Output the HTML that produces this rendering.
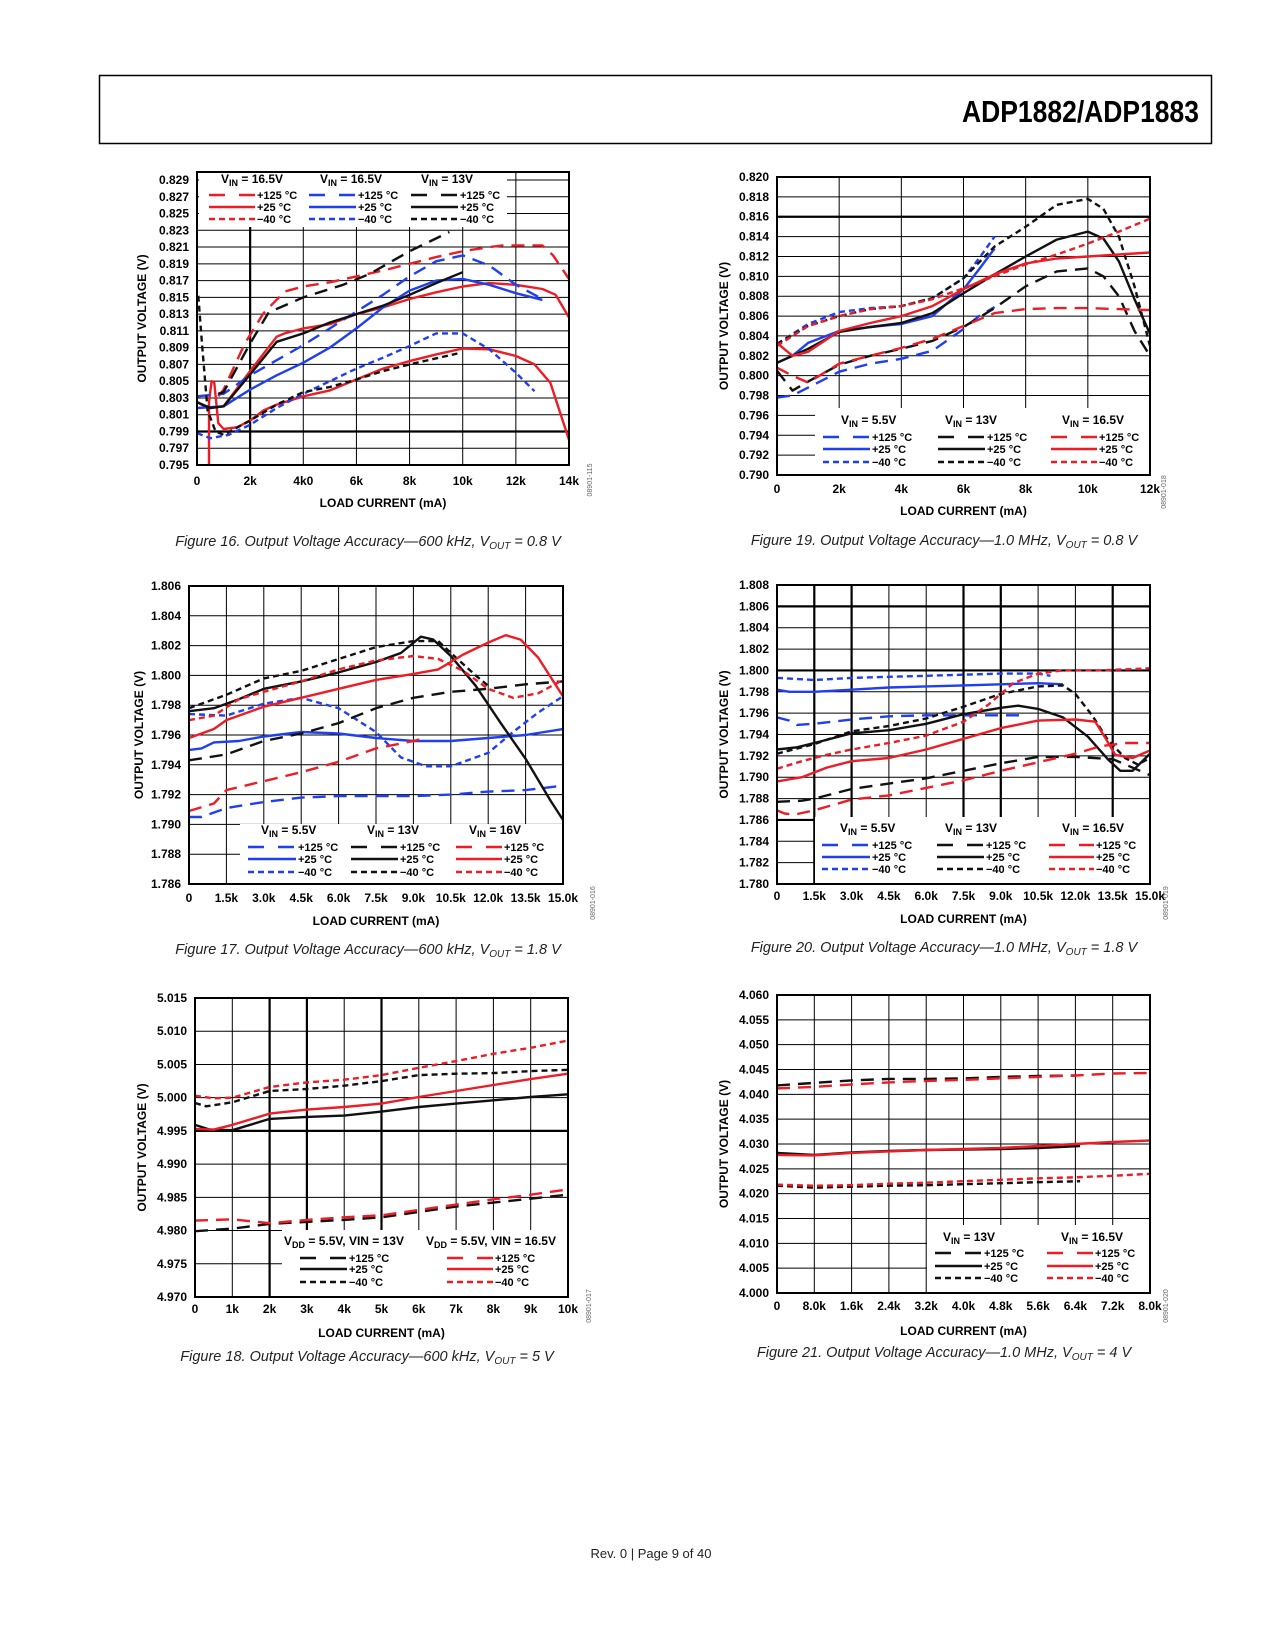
<!DOCTYPE html>
<html><head><meta charset="utf-8">
<style>
html,body{margin:0;padding:0;background:#fff;}
svg{display:block;}
text{font-family:"Liberation Sans",sans-serif;}
.tk{font-size:12px;font-weight:bold;fill:#000;}
.ax{font-size:12px;font-weight:bold;fill:#000;}
.cap{font-size:14.5px;font-style:italic;fill:#222;}
.lg{font-size:11px;font-weight:bold;fill:#000;}
.lh{font-size:12px;font-weight:bold;fill:#000;}
.id{font-size:7px;fill:#666;}
</style></head>
<body>
<svg id="page" width="1275" height="1650" viewBox="0 0 1275 1650" xmlns="http://www.w3.org/2000/svg">
<rect x="99.5" y="75.5" width="1112" height="68" fill="none" stroke="#000" stroke-width="1.5"/>
<text x="1199" y="122" font-size="31" font-weight="bold" text-anchor="end" textLength="237" lengthAdjust="spacingAndGlyphs">ADP1882/ADP1883</text>
<text x="651" y="1558" font-size="13" text-anchor="middle" fill="#222">Rev. 0 | Page 9 of 40</text>
<g id="charts"></g>
</svg>
<script>
// ---------- DATA ----------
// Figure 16 (x in k mA, y in V)
const f16Ticks = ["0","2k","4k0","6k","8k","10k","12k","14k"];
const f16YTicks = ["0.795","0.797","0.799","0.801","0.803","0.805","0.807","0.809","0.811","0.813","0.815","0.817","0.819","0.821","0.823","0.825","0.827","0.829"];
const f16_red125 = [[0.8,0.8032],[1,0.8040],[1.8,0.8095],[2.5,0.8131],[3.3,0.8157],[4,0.8163],[5,0.8168],[6,0.8175],[7,0.8182],[8,0.8190],[9,0.8198],[10,0.8205],[11,0.8210],[11.5,0.8212],[13,0.8212],[13.4,0.8200],[14,0.8172]];
const f16_red25 = [[0,0.8025],[0.4,0.8018],[1,0.8020],[2,0.8062],[3,0.8103],[3.3,0.8107],[4,0.8113],[5,0.8118],[6,0.8130],[7,0.8138],[8,0.8148],[9,0.8156],[10,0.8163],[11,0.8167],[12,0.8165],[13,0.8160],[13.5,0.8153],[14,0.8126]];
const f16_red40 = [[0.45,0.7950],[0.45,0.8025],[0.55,0.8050],[0.65,0.8048],[0.8,0.8000],[1,0.7993],[1.5,0.7995],[2,0.8003],[2.5,0.8015],[3,0.8022],[4,0.8032],[5,0.8039],[6,0.8052],[7,0.8065],[8,0.8074],[9,0.8082],[10,0.8089],[11,0.8088],[12,0.8080],[12.7,0.8070],[13.3,0.8048],[14,0.7980]];
const f16_blue125 = [[0,0.8032],[1,0.8035],[2,0.8057],[3,0.8075],[4,0.8093],[5,0.8113],[6,0.8133],[7,0.8153],[8,0.8175],[9,0.8193],[10,0.8200],[11,0.8188],[12,0.8165],[13,0.8148]];
const f16_blue25 = [[0,0.8018],[1,0.8020],[2,0.8040],[3,0.8057],[4,0.8072],[5,0.8090],[6,0.8113],[7,0.8138],[8,0.8158],[9,0.8170],[10,0.8172],[11,0.8165],[12,0.8155],[13,0.8147]];
const f16_blue40 = [[0,0.7988],[0.5,0.7982],[1.2,0.7986],[2,0.7998],[3,0.8018],[4,0.8035],[5,0.8050],[6,0.8065],[7,0.8078],[8,0.8092],[9,0.8107],[10,0.8107],[11,0.8088],[12,0.8060],[12.7,0.8038]];
const f16_black125 = [[0.8,0.8035],[1,0.8037],[2,0.8095],[2.7,0.8132],[4,0.8150],[5.5,0.8165],[6.5,0.8178],[8,0.8205],[9.5,0.8228]];
const f16_black25 = [[0,0.8025],[0.5,0.8018],[1,0.8020],[2,0.8058],[3,0.8097],[4,0.8107],[5,0.8120],[6,0.8130],[7,0.8140],[8,0.8153],[9,0.8167],[10,0.8180]];
const f16_black40 = [[0.05,0.8152],[0.2,0.8090],[0.4,0.8015],[0.7,0.7990],[1,0.7986],[2,0.8003],[3,0.8022],[4,0.8037],[5,0.8043],[6,0.8052],[7,0.8062],[8,0.8070],[9.8,0.8083]];

// Figure 19
const f19Ticks = ["0","2k","4k","6k","8k","10k","12k"];
const f19YTicks = ["0.790","0.792","0.794","0.796","0.798","0.800","0.802","0.804","0.806","0.808","0.810","0.812","0.814","0.816","0.818","0.820"];
const f19_blue125 = [[0,0.7978],[0.5,0.7980],[1,0.7988],[2,0.8004],[3,0.8012],[4,0.8017],[5,0.8025],[6,0.8047],[6.5,0.8060],[7,0.8069]];
const f19_blue25 = [[0,0.8013],[0.5,0.8020],[1,0.8033],[2,0.8045],[3,0.8049],[4,0.8052],[5,0.8060],[6,0.8087],[6.5,0.8107],[7,0.8128]];
const f19_blue40 = [[0,0.8032],[1,0.8052],[2,0.8064],[3,0.8068],[4,0.8070],[5,0.8078],[6,0.8098],[6.5,0.8118],[7,0.8140]];
const f19_black125 = [[0,0.8005],[0.5,0.7985],[1,0.7994],[2,0.8011],[3,0.8020],[4,0.8027],[5,0.8035],[6,0.8049],[7,0.8068],[8,0.8090],[9,0.8105],[10,0.8108],[10.5,0.8100],[11,0.8080],[11.5,0.8045],[12,0.8020]];
const f19_black25 = [[0,0.8013],[1,0.8027],[2,0.8044],[3,0.8049],[4,0.8053],[5,0.8063],[6,0.8083],[7,0.8102],[8,0.8120],[9,0.8137],[10,0.8145],[10.5,0.8138],[11,0.8115],[11.5,0.8077],[12,0.8042]];
const f19_black40 = [[0,0.8032],[1,0.8050],[2,0.8060],[3,0.8067],[4,0.8070],[5,0.8078],[6,0.8098],[7,0.8130],[8,0.8150],[9,0.8172],[10,0.8178],[10.5,0.8168],[11,0.8140],[11.5,0.8090],[12,0.8030]];
const f19_red125 = [[0,0.8008],[0.5,0.8000],[1,0.7993],[2,0.8012],[3,0.8020],[4,0.8028],[5,0.8037],[6,0.8050],[7,0.8063],[8,0.8067],[9,0.8068],[10,0.8068],[11,0.8067],[12,0.8066]];
const f19_red25 = [[0,0.8033],[0.5,0.8020],[1,0.8024],[2,0.8045],[3,0.8053],[4,0.8060],[5,0.8070],[6,0.8087],[7,0.8102],[8,0.8113],[9,0.8118],[10,0.8120],[11,0.8122],[12,0.8124]];
const f19_red40 = [[0,0.8030],[1,0.8050],[2,0.8060],[3,0.8067],[4,0.8070],[5,0.8077],[6,0.8088],[7,0.8100],[8,0.8112],[9,0.8122],[10,0.8133],[11,0.8145],[12,0.8158]];

// Figure 17
const f17Ticks = ["0","1.5k","3.0k","4.5k","6.0k","7.5k","9.0k","10.5k","12.0k","13.5k","15.0k"];
const f17YTicks = ["1.786","1.788","1.790","1.792","1.794","1.796","1.798","1.800","1.802","1.804","1.806"];
const f17_blue125 = [[0,1.7905],[0.5,1.7905],[1.5,1.7911],[3,1.7915],[4.5,1.7918],[6,1.7919],[7.5,1.7919],[9,1.7919],[10.5,1.7920],[12,1.7922],[13.5,1.7923],[15,1.7926]];
const f17_blue25 = [[0,1.7950],[0.5,1.7951],[1,1.7955],[2,1.7956],[3,1.7959],[4.5,1.7962],[6,1.7961],[7.5,1.7958],[9,1.7956],[10.5,1.7956],[12,1.7958],[13.5,1.7960],[15,1.7964]];
const f17_blue40 = [[0,1.7974],[1.5,1.7973],[3,1.7981],[4.5,1.7985],[6,1.7978],[7.5,1.7962],[8.5,1.7945],[9.5,1.7939],[10.5,1.7939],[12,1.7948],[13,1.7962],[14,1.7975],[15,1.7986]];
const f17_black125 = [[0,1.7943],[1.5,1.7947],[3,1.7956],[4.5,1.7961],[6,1.7968],[7.5,1.7978],[9,1.7985],[10.5,1.7989],[12,1.7991],[13.5,1.7994],[15,1.7996]];
const f17_black25 = [[0,1.7976],[1,1.7978],[2,1.7984],[3,1.7991],[4.5,1.7996],[6,1.8002],[7.5,1.8009],[8.5,1.8015],[9.3,1.8026],[9.8,1.8024],[10.5,1.8013],[11.5,1.7993],[12.5,1.7968],[13.5,1.7944],[14.5,1.7916],[15,1.7903]];
const f17_black40 = [[0,1.7978],[1.5,1.7987],[3,1.7998],[4.5,1.8003],[6,1.8011],[7.5,1.8019],[9,1.8023],[10,1.8023],[10.7,1.8012],[11.5,1.8000],[12,1.7993]];
const f17_red125 = [[0,1.7909],[1,1.7914],[1.5,1.7923],[3,1.7929],[4.5,1.7935],[6,1.7942],[7.5,1.7951],[9,1.7956],[9.5,1.7958]];
const f17_red25 = [[0,1.7958],[1,1.7964],[1.5,1.7970],[3,1.7979],[4.5,1.7985],[6,1.7991],[7.5,1.7997],[9,1.8001],[10,1.8004],[11,1.8014],[12,1.8022],[12.7,1.8027],[13.3,1.8024],[14,1.8012],[15,1.7986]];
const f17_red40 = [[0,1.7970],[1,1.7973],[2,1.7984],[3,1.7989],[4.5,1.7996],[6,1.8004],[7.5,1.8010],[9,1.8013],[10,1.8011],[11,1.8003],[12,1.7991],[13,1.7985],[14,1.7988],[15,1.7997]];

// Figure 20
const f20Ticks = ["0","1.5k","3.0k","4.5k","6.0k","7.5k","9.0k","10.5k","12.0k","13.5k","15.0k"];
const f20YTicks = ["1.780","1.782","1.784","1.786","1.788","1.790","1.792","1.794","1.796","1.798","1.800","1.802","1.804","1.806","1.808"];
const f20_blue125 = [[0,1.7956],[0.5,1.7953],[0.8,1.7949],[1.5,1.7950],[3,1.7954],[4.5,1.7957],[6,1.7958],[7.5,1.7958],[9,1.7958],[10,1.7958]];
const f20_blue25 = [[0,1.7982],[0.5,1.7980],[1.5,1.7980],[3,1.7982],[4.5,1.7984],[6,1.7985],[7.5,1.7986],[9,1.7987],[10.5,1.7988],[11.5,1.7987]];
const f20_blue40 = [[0,1.7993],[1.5,1.7991],[3,1.7993],[4.5,1.7994],[6,1.7995],[7.5,1.7996],[9,1.7997],[10.5,1.7997],[11,1.7995]];
const f20_black125 = [[0,1.7877],[1,1.7878],[1.5,1.7880],[3,1.7889],[4.5,1.7894],[6,1.7899],[7.5,1.7906],[9,1.7913],[10.5,1.7919],[12,1.7919],[13.5,1.7917],[15,1.7902]];
const f20_black25 = [[0,1.7926],[0.8,1.7928],[1.5,1.7932],[3,1.7941],[4.5,1.7944],[6,1.7950],[7.5,1.7959],[9,1.7965],[9.7,1.7967],[10.5,1.7964],[11.5,1.7956],[12.5,1.7938],[13.3,1.7917],[13.8,1.7906],[14.3,1.7906],[15,1.7922]];
const f20_black40 = [[0,1.7922],[1.5,1.7931],[3,1.7943],[4.5,1.7948],[6,1.7955],[7.5,1.7966],[9,1.7978],[10.5,1.7985],[11.5,1.7986],[12,1.7978],[12.7,1.7957],[13.3,1.7935],[14,1.7918],[14.5,1.7912],[15,1.7918]];
const f20_red125 = [[0,1.7869],[0.3,1.7866],[0.7,1.7865],[1.5,1.7869],[3,1.7879],[4.5,1.7883],[6,1.7890],[7.5,1.7897],[9,1.7906],[10.5,1.7914],[12,1.7922],[13,1.7929],[14,1.7932],[15,1.7932]];
const f20_red25 = [[0,1.7896],[1,1.7900],[2,1.7909],[3,1.7915],[4.5,1.7918],[6,1.7926],[7.5,1.7936],[9,1.7946],[10.5,1.7953],[12,1.7954],[12.8,1.7952],[13.2,1.7937],[13.6,1.7921],[14.3,1.7918],[15,1.7925]];
const f20_red40 = [[0,1.7908],[1,1.7915],[2,1.7921],[3,1.7926],[4.5,1.7932],[6,1.7939],[7.5,1.7952],[8.5,1.7968],[9.5,1.7988],[10.5,1.7997],[11.5,1.8000],[13,1.8000],[15,1.8002]];

// Figure 18
const f18Ticks = ["0","1k","2k","3k","4k","5k","6k","7k","8k","9k","10k"];
const f18YTicks = ["4.970","4.975","4.980","4.985","4.990","4.995","5.000","5.005","5.010","5.015"];
const f18_black125 = [[0,4.9799],[0.5,4.9801],[1,4.9803],[2,4.9810],[3,4.9813],[4,4.9816],[5,4.9820],[6,4.9828],[7,4.9836],[8,4.9842],[9,4.9848],[10,4.9854]];
const f18_black25 = [[0,4.9959],[0.4,4.9952],[1,4.9951],[2,4.9968],[3,4.9971],[4,4.9973],[5,4.9979],[6,4.9986],[7,4.9991],[8,4.9996],[9,5.0001],[10,5.0005]];
const f18_black40 = [[0,4.9992],[0.3,4.9987],[1,4.9993],[2,5.0010],[3,5.0013],[4,5.0018],[5,5.0025],[6,5.0034],[7,5.0036],[8,5.0037],[9,5.0040],[10,5.0042]];
const f18_red125 = [[0,4.9815],[1,4.9817],[2,4.9811],[3,4.9816],[4,4.9820],[5,4.9823],[6,4.9831],[7,4.9839],[8,4.9847],[9,4.9854],[10,4.9862]];
const f18_red25 = [[0,4.9953],[0.5,4.9952],[1,4.9959],[2,4.9976],[3,4.9982],[4,4.9986],[5,4.9991],[6,5.0001],[7,5.0010],[8,5.0019],[9,5.0028],[10,5.0036]];
const f18_red40 = [[0,5.0003],[0.5,4.9999],[1,5.0000],[2,5.0016],[3,5.0023],[4,5.0027],[5,5.0034],[6,5.0045],[7,5.0055],[8,5.0066],[9,5.0075],[10,5.0086]];

// Figure 21
const f21Ticks = ["0","8.0k","1.6k","2.4k","3.2k","4.0k","4.8k","5.6k","6.4k","7.2k","8.0k"];
const f21YTicks = ["4.000","4.005","4.010","4.015","4.020","4.025","4.030","4.035","4.040","4.045","4.050","4.055","4.060"];
const f21_black125 = [[0,4.0418],[0.8,4.0423],[1.6,4.0428],[2.4,4.0431],[3.2,4.0431],[4,4.0432],[4.8,4.0435],[5.6,4.0437],[6.4,4.0438]];
const f21_black25 = [[0,4.0282],[0.8,4.0278],[1.6,4.0283],[2.4,4.0286],[3.2,4.0288],[4,4.0289],[4.8,4.0290],[5.6,4.0292],[6.5,4.0296]];
const f21_black40 = [[0,4.0216],[0.8,4.0212],[1.6,4.0214],[2.4,4.0216],[3.2,4.0217],[4,4.0219],[4.8,4.0221],[5.6,4.0223],[6.5,4.0225]];
const f21_red125 = [[0,4.0412],[0.8,4.0415],[1.6,4.0420],[2.4,4.0424],[3.2,4.0427],[4,4.0429],[4.8,4.0432],[5.6,4.0435],[6.4,4.0438],[7.2,4.0442],[8,4.0443]];
const f21_red25 = [[0,4.0278],[0.8,4.0277],[1.6,4.0282],[2.4,4.0285],[3.2,4.0288],[4,4.0290],[4.8,4.0292],[5.6,4.0296],[6.4,4.0300],[7.2,4.0304],[8,4.0307]];
const f21_red40 = [[0,4.0218],[0.8,4.0216],[1.6,4.0217],[2.4,4.0220],[3.2,4.0222],[4,4.0225],[4.8,4.0228],[5.6,4.0231],[6.4,4.0233],[7.2,4.0236],[8,4.0240]];

// ---------- RENDER ----------
const NS = "http://www.w3.org/2000/svg";
const root = document.getElementById("charts");
const RED = "#ee1c25", BLUE = "#1f3ff0", BLACK = "#111";
const DASH = {l:"13 8", s:"6 4", solid:null};
function mk(tag, attrs, parent){ const e=document.createElementNS(NS,tag); for(const k in attrs) e.setAttribute(k,attrs[k]); (parent||root).appendChild(e); return e; }

function chart(c){
  const g = mk("g",{});
  
  
  const nx = c.xTicks.length-1, ny = c.yTicks.length-1;
  const gt = c.gridTop!==undefined ? c.gridTop : c.T;
  const sx = v => c.L + (v - c.xmin)/(c.xmax - c.xmin)*(c.R - c.L);
  const sy = v => c.B - (v - c.ymin)/(c.ymax - c.ymin)*(c.B - gt);
  for(let i=1;i<nx;i++){ const x=c.L+(c.R-c.L)*i/nx; const th=(c.thickX||[]).includes(i);
    const ln=mk("line",{x1:x,x2:x,y1:c.T,y2:c.B,stroke:"#000","stroke-width":th?2.2:1},g);
      }
  for(let j=1;j<ny;j++){ const y=c.B-(c.B-gt)*j/ny; const th=(c.thickY||[]).includes(j);
    const ln=mk("line",{x1:c.L,x2:c.R,y1:y,y2:y,stroke:"#000","stroke-width":th?2.2:1},g);
      }
  if(gt!==c.T){ const ln=mk("line",{x1:c.L,x2:c.R,y1:gt,y2:gt,stroke:"#000","stroke-width":1},g);
      }
  const lb=c.legend;
  const bg=mk("rect",{x:lb.x,y:lb.y,width:lb.w,height:lb.h,fill:"#fff"},g);
   
  const cid="clip"+c.id;
  const cp=mk("clipPath",{id:cid},g); mk("rect",{x:c.L,y:c.T,width:c.R-c.L,height:c.B-c.T},cp);
  const sg=mk("g",{"clip-path":"url(#"+cid+")"},g);
  c.series.forEach(s=>{
    const pts=s.data.map(p=>sx(p[0]).toFixed(1)+","+sy(p[1]).toFixed(1)).join(" ");
    const a={points:pts,fill:"none",stroke:s.color,"stroke-width":2.4,"stroke-linejoin":"round"};
    if(DASH[s.dash]) a["stroke-dasharray"]=DASH[s.dash];
    const pl=mk("polyline",a,sg);
    
    
  });
  const fr=mk("rect",{x:c.L,y:c.T,width:c.R-c.L,height:c.B-c.T,fill:"none",stroke:"#000","stroke-width":2},g);
   
  c.xTicks.forEach((t,i)=>{ const x=c.L+(c.R-c.L)*i/nx;
    const tx=mk("text",{x:x,y:c.B+c.tickDy,"text-anchor":"middle",class:"tk"},g); tx.textContent=t;
      });
  c.yTicks.forEach((t,j)=>{ const y=c.B-(c.B-gt)*j/ny;
    const tx=mk("text",{x:c.L-8,y:y+4,"text-anchor":"end",class:"tk"},g); tx.textContent=t;
      });
  const xt=mk("text",{x:(c.L+c.R)/2,y:c.xTitleY,"text-anchor":"middle",class:"ax"},g); xt.textContent="LOAD CURRENT (mA)";
   
  const yc=(c.T+c.B)/2;
  const yt=mk("text",{x:c.yTitleX,y:yc,"text-anchor":"middle",class:"ax",transform:"rotate(-90 "+c.yTitleX+" "+yc+")"},g); yt.textContent="OUTPUT VOLTAGE (V)";
   
  const di=mk("text",{x:c.idX,y:c.idY,"text-anchor":"middle",class:"id",transform:"rotate(-90 "+c.idX+" "+c.idY+")"},g); di.textContent=c.docId;
   
  lb.groups.forEach(gr=>{
    const h=mk("text",{x:gr.hx,y:lb.hy,class:"lh"},g);
     
    const parts=gr.head;
    const t1=mk("tspan",{},h); t1.textContent=parts[0];
    const t2=mk("tspan",{dy:3,"font-size":"9"},h); t2.textContent=parts[1];
    const t3=mk("tspan",{dy:-3},h); t3.textContent=parts[2];
    const labels=["+125 °C","+25 °C","\u221240 °C"], dashes=["l","solid","s"];
    lb.rows.forEach((ry,k)=>{
      const a={x1:gr.s0,x2:gr.s1,y1:ry-4,y2:ry-4,stroke:gr.color,"stroke-width":2.6};
      if(DASH[dashes[k]]) a["stroke-dasharray"]= k===0 ? "16 14" : "6 4";
      const ln=mk("line",a,g);
       
      const tx=mk("text",{x:gr.s1+2,y:ry,class:"lg"},g); tx.textContent=labels[k];
       
    });
  });
  const cap=mk("text",{x:c.capX,y:c.capY,"text-anchor":"middle",class:"cap"},g);
   
  const c1=mk("tspan",{},cap); c1.textContent=c.caption[0]+"V";
  const c2=mk("tspan",{dy:3,"font-size":"10"},cap); c2.textContent="OUT";
  const c3=mk("tspan",{dy:-3},cap); c3.textContent=c.caption[1];
}

function S(name,data,color,dash){ return {name,data,color,dash}; }
const VIN=(v)=>["V","IN"," = "+v];

chart({id:16,name:"figure-16-chart",L:197,R:569,T:172,B:465,gridTop:180,xmin:0,xmax:14,ymin:0.795,ymax:0.829,
  xTicks:f16Ticks,yTicks:f16YTicks,thickX:[1],thickY:[2],tickDy:20,xTitleY:507,yTitleX:146,idX:592,idY:480,docId:"08901-115",
  capX:368,capY:546,caption:["Figure 16. Output Voltage Accuracy\u2014600 kHz, "," = 0.8 V"],
  series:[S("red-16v5-125c",f16_red125,RED,"l"),S("red-16v5-25c",f16_red25,RED,"solid"),S("red-16v5-m40c",f16_red40,RED,"solid"),
    S("blue-16v5-125c",f16_blue125,BLUE,"l"),S("blue-16v5-25c",f16_blue25,BLUE,"solid"),S("blue-16v5-m40c",f16_blue40,BLUE,"s"),
    S("black-13v-125c",f16_black125,BLACK,"l"),S("black-13v-25c",f16_black25,BLACK,"solid"),S("black-13v-m40c",f16_black40,BLACK,"s")],
  legend:{x:199,y:173,w:308,h:54,hy:183,rows:[199,211,223],groups:[
    {hx:221,s0:209,s1:255,color:RED,head:VIN("16.5V")},{hx:320,s0:309,s1:356,color:BLUE,head:VIN("16.5V")},{hx:421,s0:411,s1:458,color:BLACK,head:VIN("13V")}]}
});
chart({id:19,name:"figure-19-chart",L:777,R:1150,T:177,B:475,xmin:0,xmax:12,ymin:0.790,ymax:0.820,
  xTicks:f19Ticks,yTicks:f19YTicks,thickY:[13],tickDy:18,xTitleY:515,yTitleX:728,idX:1166,idY:492,docId:"08901-018",
  capX:944,capY:545,caption:["Figure 19. Output Voltage Accuracy\u20141.0 MHz, "," = 0.8 V"],
  series:[S("blue-5v5-125c",f19_blue125,BLUE,"l"),S("blue-5v5-25c",f19_blue25,BLUE,"solid"),S("blue-5v5-m40c",f19_blue40,BLUE,"s"),
    S("black-13v-125c",f19_black125,BLACK,"l"),S("black-13v-25c",f19_black25,BLACK,"solid"),S("black-13v-m40c",f19_black40,BLACK,"s"),
    S("red-16v5-125c",f19_red125,RED,"l"),S("red-16v5-25c",f19_red25,RED,"solid"),S("red-16v5-m40c",f19_red40,RED,"s")],
  legend:{x:815,y:408,w:334,h:66,hy:424,rows:[441,453,466],groups:[
    {hx:841,s0:823,s1:870,color:BLUE,head:VIN("5.5V")},{hx:945,s0:938,s1:985,color:BLACK,head:VIN("13V")},{hx:1062,s0:1051,s1:1097,color:RED,head:VIN("16.5V")}]}
});
chart({id:17,name:"figure-17-chart",L:189,R:563,T:586,B:884,xmin:0,xmax:15,ymin:1.786,ymax:1.806,
  xTicks:f17Ticks,yTicks:f17YTicks,tickDy:18,xTitleY:925,yTitleX:143,idX:595,idY:903,docId:"08901-016",
  capX:368,capY:954,caption:["Figure 17. Output Voltage Accuracy\u2014600 kHz, "," = 1.8 V"],
  series:[S("blue-5v5-125c",f17_blue125,BLUE,"l"),S("blue-5v5-25c",f17_blue25,BLUE,"solid"),S("blue-5v5-m40c",f17_blue40,BLUE,"s"),
    S("black-13v-125c",f17_black125,BLACK,"l"),S("black-13v-25c",f17_black25,BLACK,"solid"),S("black-13v-m40c",f17_black40,BLACK,"s"),
    S("red-16v-125c",f17_red125,RED,"l"),S("red-16v-25c",f17_red25,RED,"solid"),S("red-16v-m40c",f17_red40,RED,"s")],
  legend:{x:240,y:824,w:322,h:59,hy:834,rows:[851,863,876],groups:[
    {hx:261,s0:248,s1:296,color:BLUE,head:VIN("5.5V")},{hx:367,s0:351,s1:398,color:BLACK,head:VIN("13V")},{hx:469,s0:456,s1:502,color:RED,head:VIN("16V")}]}
});
chart({id:20,name:"figure-20-chart",L:777,R:1150,T:585,B:884,xmin:0,xmax:15,ymin:1.780,ymax:1.808,
  xTicks:f20Ticks,yTicks:f20YTicks,thickX:[1,2,5,6,9],thickY:[3,10,13],tickDy:16,xTitleY:923,yTitleX:728,idX:1168,idY:903,docId:"08901-019",
  capX:944,capY:952,caption:["Figure 20. Output Voltage Accuracy\u20141.0 MHz, "," = 1.8 V"],
  series:[S("blue-5v5-125c",f20_blue125,BLUE,"l"),S("blue-5v5-25c",f20_blue25,BLUE,"solid"),S("blue-5v5-m40c",f20_blue40,BLUE,"s"),
    S("black-13v-125c",f20_black125,BLACK,"l"),S("black-13v-25c",f20_black25,BLACK,"solid"),S("black-13v-m40c",f20_black40,BLACK,"s"),
    S("red-16v5-125c",f20_red125,RED,"l"),S("red-16v5-25c",f20_red25,RED,"solid"),S("red-16v5-m40c",f20_red40,RED,"s")],
  legend:{x:815,y:817,w:334,h:66,hy:832,rows:[849,861,873],groups:[
    {hx:840,s0:822,s1:870,color:BLUE,head:VIN("5.5V")},{hx:945,s0:937,s1:984,color:BLACK,head:VIN("13V")},{hx:1062,s0:1049,s1:1094,color:RED,head:VIN("16.5V")}]}
});
chart({id:18,name:"figure-18-chart",L:195,R:568,T:998,B:1297,xmin:0,xmax:10,ymin:4.970,ymax:5.015,
  xTicks:f18Ticks,yTicks:f18YTicks,thickX:[2,3,5],thickY:[5],tickDy:16,xTitleY:1337,yTitleX:146,idX:591,idY:1306,docId:"08901-017",
  capX:367,capY:1361,caption:["Figure 18. Output Voltage Accuracy\u2014600 kHz, "," = 5 V"],
  series:[S("black-13v-125c",f18_black125,BLACK,"l"),S("black-13v-25c",f18_black25,BLACK,"solid"),S("black-13v-m40c",f18_black40,BLACK,"s"),
    S("red-16v5-125c",f18_red125,RED,"l"),S("red-16v5-25c",f18_red25,RED,"solid"),S("red-16v5-m40c",f18_red40,RED,"s")],
  legend:{x:282,y:1230,w:285,h:66,hy:1245,rows:[1262,1273,1286],groups:[
    {hx:284,s0:300,s1:347,color:BLACK,head:["V","DD"," = 5.5V, VIN = 13V"]},{hx:426,s0:447,s1:493,color:RED,head:["V","DD"," = 5.5V, VIN = 16.5V"]}]}
});
chart({id:21,name:"figure-21-chart",L:777,R:1150,T:995,B:1293,xmin:0,xmax:8,ymin:4.000,ymax:4.060,
  xTicks:f21Ticks,yTicks:f21YTicks,tickDy:17,xTitleY:1335,yTitleX:728,idX:1168,idY:1306,docId:"08901-020",
  capX:944,capY:1357,caption:["Figure 21. Output Voltage Accuracy\u20141.0 MHz, "," = 4 V"],
  series:[S("black-13v-125c",f21_black125,BLACK,"l"),S("black-13v-25c",f21_black25,BLACK,"solid"),S("black-13v-m40c",f21_black40,BLACK,"s"),
    S("red-16v5-125c",f21_red125,RED,"l"),S("red-16v5-25c",f21_red25,RED,"solid"),S("red-16v5-m40c",f21_red40,RED,"s")],
  legend:{x:927,y:1225,w:222,h:67,hy:1241,rows:[1257,1270,1282],groups:[
    {hx:943,s0:935,s1:982,color:BLACK,head:VIN("13V")},{hx:1061,s0:1047,s1:1093,color:RED,head:VIN("16.5V")}]}
});
</script>
</body></html>
